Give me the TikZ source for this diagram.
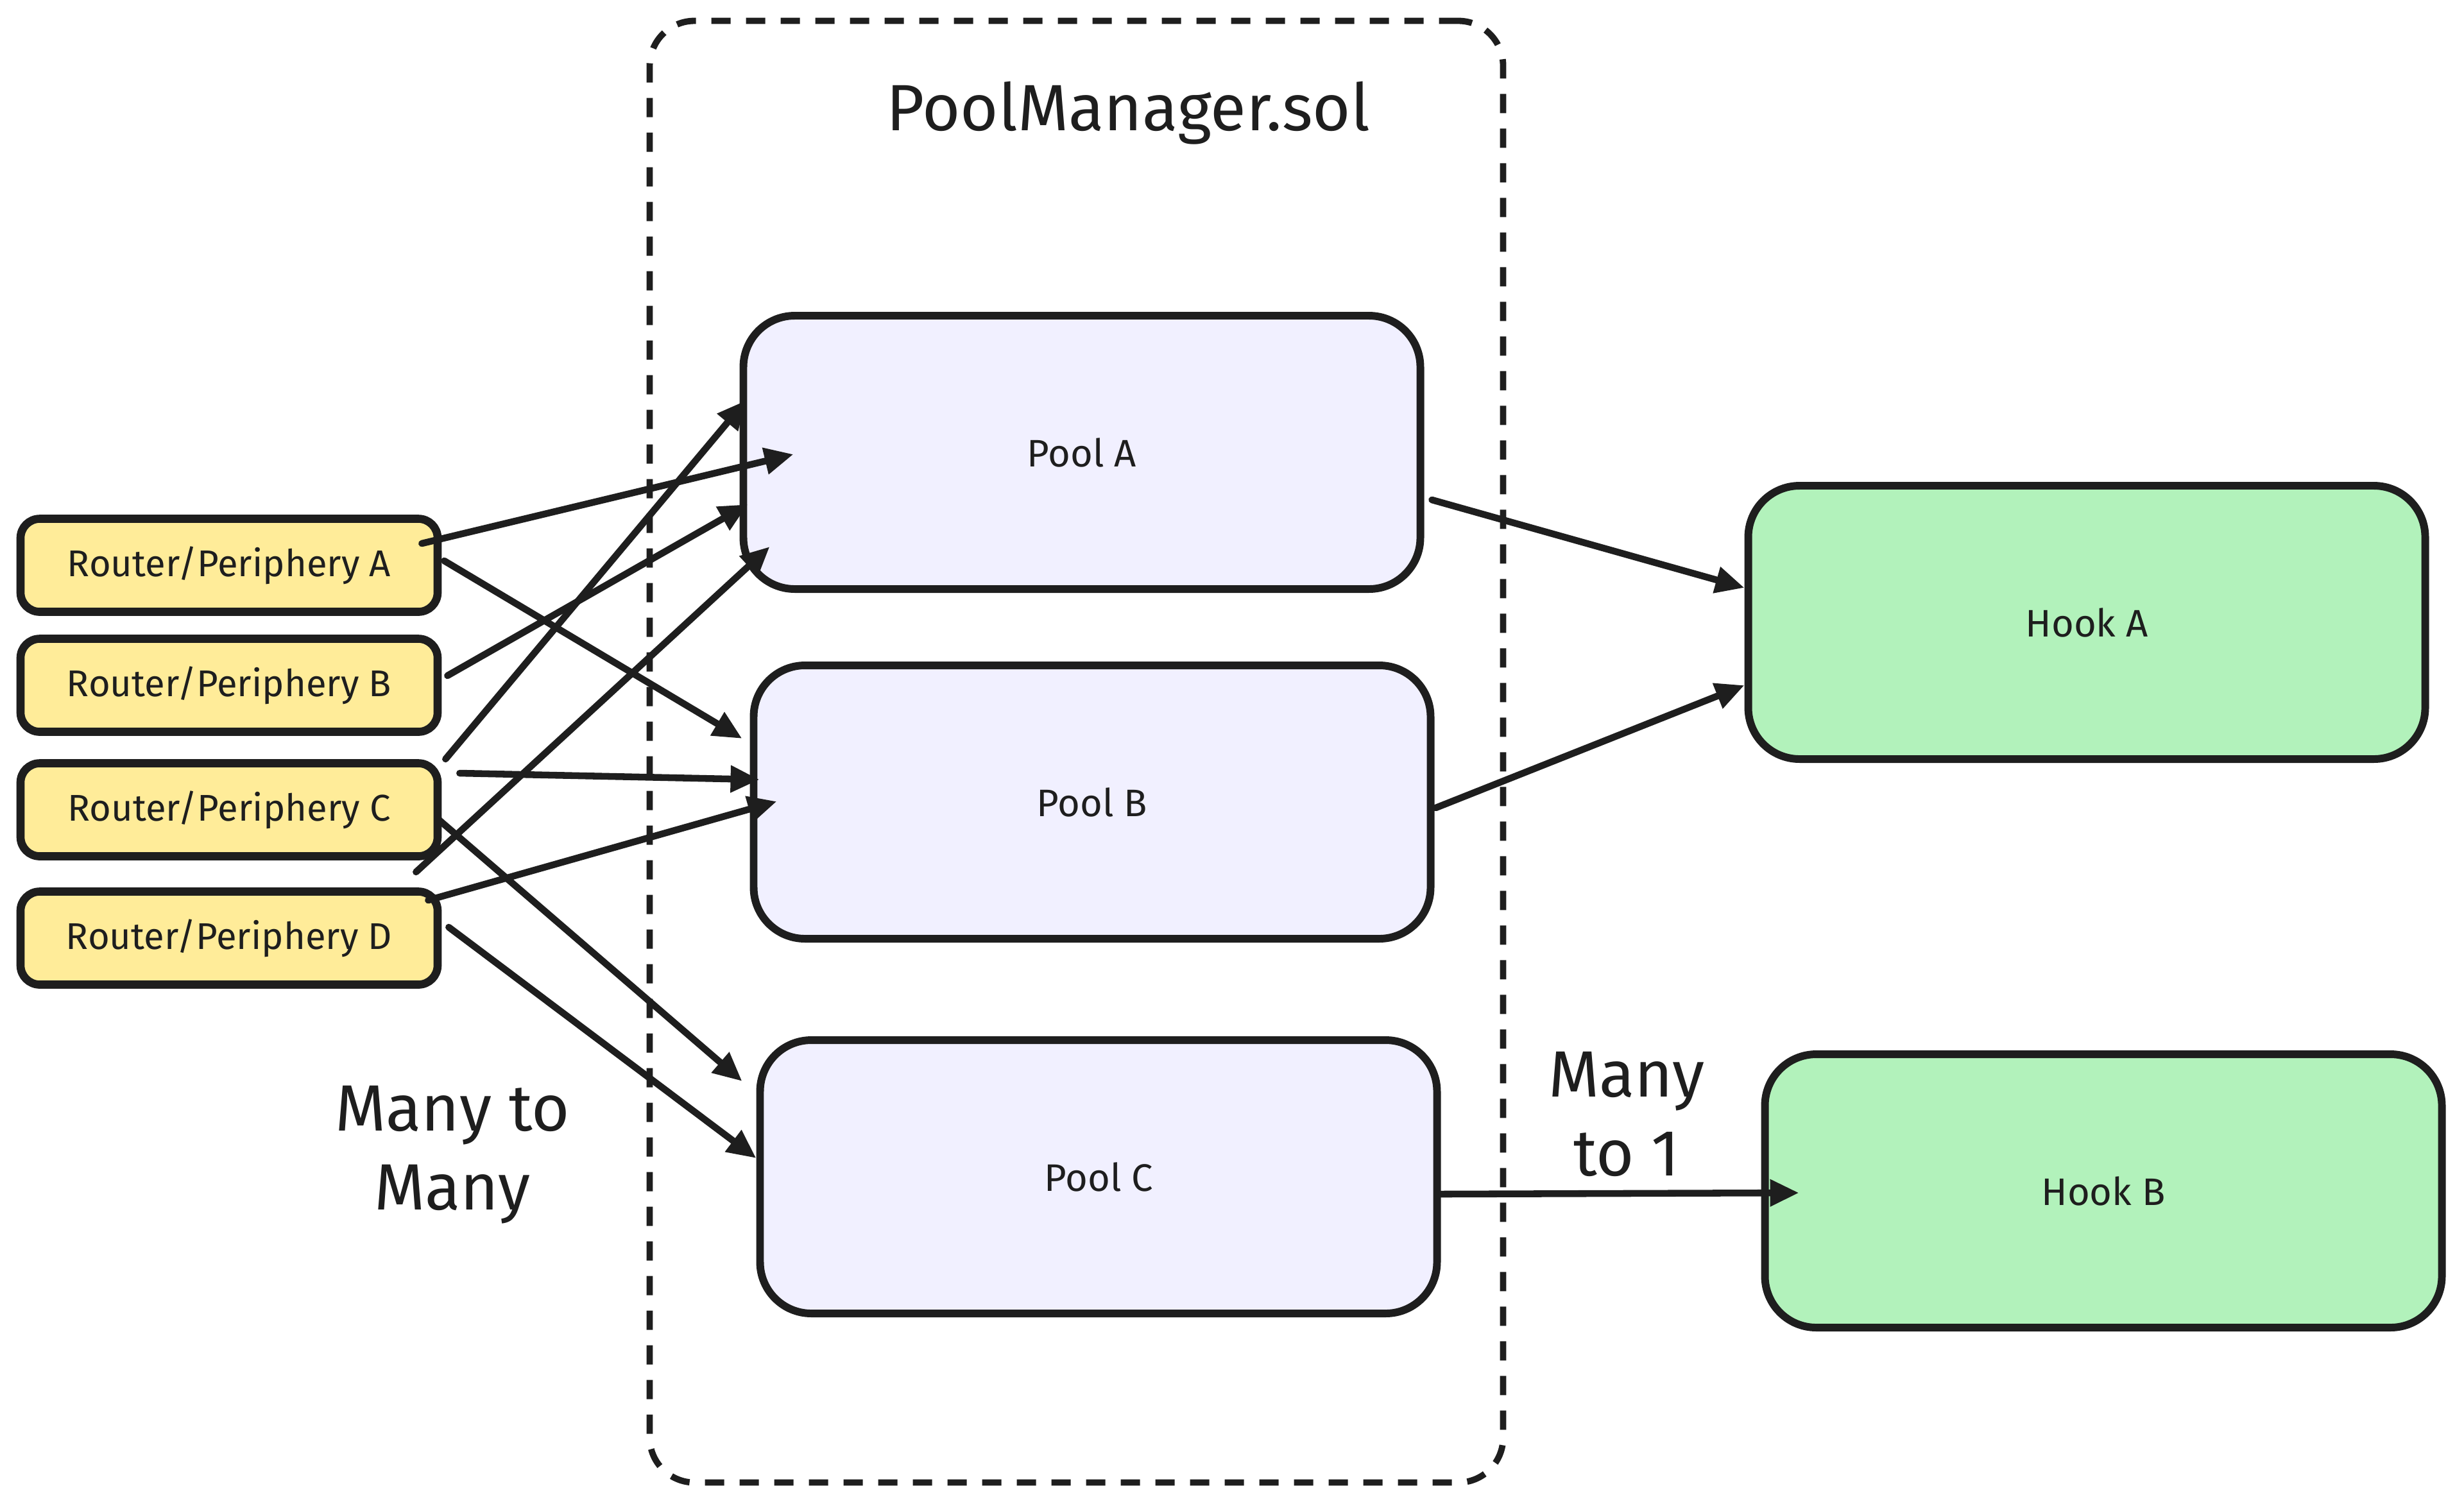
\documentclass[tikz,border=0pt]{standalone}
\usepackage{fontspec}
\setmainfont{Fira Sans}
\usetikzlibrary{arrows.meta}
\definecolor{ink}{HTML}{1E1E1E}
\definecolor{routerfill}{HTML}{FFEC99}
\definecolor{poolfill}{HTML}{F1F0FF}
\definecolor{hookfill}{HTML}{B2F2BB}
\tikzset{
  router/.style={draw=ink,line width=3.6pt,fill=routerfill,rounded corners=0.3cm,
    minimum width=6.5cm,minimum height=1.45cm,text=ink,font=\fontsize{16.5}{20}\selectfont},
  pool/.style={draw=ink,line width=3.4pt,fill=poolfill,rounded corners=0.8cm,
    minimum width=10.55cm,minimum height=4.26cm,text=ink,font=\fontsize{17}{20}\selectfont},
  hook/.style={pool,fill=hookfill},
  frame/.style={draw=ink,line width=2.8pt,dash pattern=on 0.3cm off 0.24cm,rounded corners=0.7cm,
    minimum width=13.3cm,minimum height=22.78cm},
  bigtext/.style={text=ink,align=center,font=\fontsize{29}{35}\selectfont},
  link/.style={draw=ink,line width=3pt,line cap=round,-{Triangle[length=0.45cm,width=0.4cm]}},
}
\begin{document}
\begin{tikzpicture}
    \useasboundingbox (0,0) rectangle (38.4,-23.43);
    \node[frame] (mgr) at (16.775,-11.715) {};
    \node[bigtext] (title) at (17.58,-1.76) {PoolManager.sol};

    \node[router] (ra) at (3.57,-8.81) {Router/Periphery A};
    \node[router] (rb) at (3.57,-10.68) {Router/Periphery B};
    \node[router] (rc) at (3.57,-12.62) {Router/Periphery C};
    \node[router] (rd) at (3.57,-14.62) {Router/Periphery D};

    \node[pool] (pa) at (16.86,-7.05) {Pool A};
    \node[pool] (pb) at (17.02,-12.50) {Pool B};
    \node[pool] (pc) at (17.12,-18.34) {Pool C};

    \node[hook] (ha) at (32.52,-9.70) {Hook A};
    \node[hook] (hb) at (32.78,-18.56) {Hook B};

    \node[bigtext] (m2m) at (7.05,-18.0) {Many to\\Many};
    \node[bigtext] (m21) at (25.35,-17.36) {Many\\to 1};

    \draw[link] ([shift={(-0.31,0.34)}]ra.east) -- ([shift={(0.84,-0.03)}]pa.west);
    \draw[link] ([shift={(0.04,0.07)}]ra.east) -- ([shift={(-0.12,0.99)}]pb.west);
    \draw[link] ([shift={(0.09,0.15)}]rb.east) -- ([shift={(0.13,-0.81)}]pa.west);
    \draw[link] ([shift={(0.06,0.79)}]rc.east) -- ([shift={(0.10,0.81)}]pa.west);
    \draw[link] ([shift={(0.28,0.57)}]rc.east) -- ([shift={(0.15,0.35)}]pb.west);
    \draw[link] ([shift={(-0.04,-0.16)}]rc.east) -- ([shift={(-0.22,1.49)}]pc.west);
    \draw[link] ([shift={(-0.40,-0.97)}]rc.east) -- ([shift={(0.47,-1.47)}]pa.west);
    \draw[link] ([shift={(-0.21,0.59)}]rd.east) -- ([shift={(0.42,0.01)}]pb.west);
    \draw[link] ([shift={(0.11,0.17)}]rd.east) -- ([shift={(0,0.29)}]pc.west);

    \draw[link] ([shift={(0.12,-0.74)}]pa.east) -- ([shift={(0,0.54)}]ha.west);
    \draw[link] ([shift={(0.02,-0.09)}]pb.east) -- ([shift={(0,-0.98)}]ha.west);
    \draw[link] ([shift={(0,-0.27)}]pc.east) -- ([shift={(0.59,-0.03)}]hb.west);
\end{tikzpicture}
\end{document}
